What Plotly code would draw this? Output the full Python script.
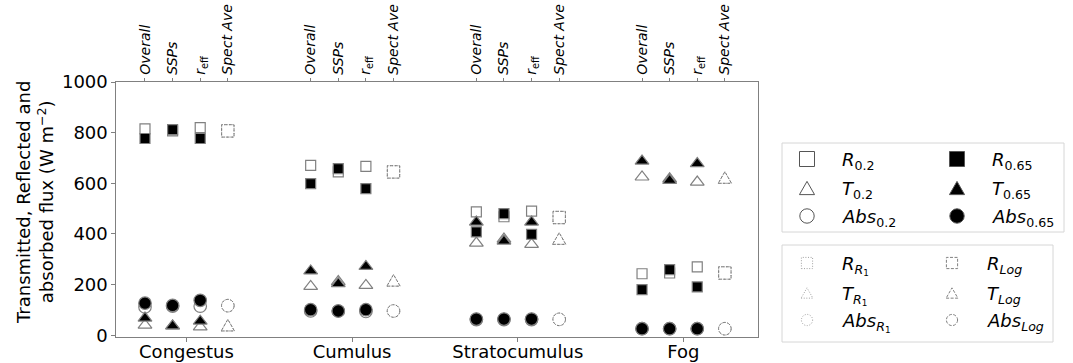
import plotly.graph_objects as go

# ---- data -------------------------------------------------------------
clouds = ["Congestus", "Cumulus", "Stratocumulus", "Fog"]
method_labels = ["<i>Overall</i>", "<i>SSPs</i>", "<i>r</i><sub>eff</sub>", "<i>Spect Ave</i>"]

# values per cloud type, ordered [Overall, SSPs, r_eff]  (W m-2)
R_02 = [[815, 807, 820], [671, 645, 667], [487, 468, 490], [243, 246, 270]]
R_065 = [[777, 812, 777], [599, 658, 579], [408, 480, 399], [180, 259, 191]]
T_02 = [[40, 37, 33], [193, 212, 197], [364, 380, 359], [625, 618, 605]]
T_065 = [[68, 37, 56], [254, 204, 272], [447, 372, 447], [688, 612, 678]]
Abs_02 = [[112, 115, 115], [96, 96, 94], [62, 62, 62], [26, 26, 26]]
Abs_065 = [[127, 118, 138], [101, 96, 101], [64, 64, 64], [26, 26, 26]]

# spectrally averaged values, one per cloud type
R_R1 = [807, 645, 465, 246]
T_R1 = [40, 217, 382, 623]
Abs_R1 = [117, 96, 63, 26]
R_Log = [807, 645, 465, 246]
T_Log = [40, 217, 382, 623]
Abs_Log = [117, 96, 63, 26]

# ---- layout constants -------------------------------------------------
GROUP_STEP = 6
N_METH = 3
SPECT_OFFSET = 3
L, R, T, B = 116, 315, 82, 26
W, H = 1073, 363
PW, PH = W - L - R, H - T - B
EDGE = "#808080"
FONT = "DejaVu Sans"


def pos(g, m):
    return GROUP_STEP * g + m


def to_paper(px, py):
    return (px - L) / PW, (H - B - py) / PH


fig = go.Figure()

# point markers: 0.2 series on the base axis, 0.65 series drawn above on the overlay axis
series = [
    (R_02, "square", "white", 10, "x"),
    (T_02, "triangle-up", "white", 12, "x"),
    (Abs_02, "circle", "white", 12.5, "x"),
    (R_065, "square", "black", 10, "x2"),
    (T_065, "triangle-up", "black", 12, "x2"),
    (Abs_065, "circle", "black", 12.5, "x2"),
]
for vals, sym, fill, size, xax in series:
    xs = [pos(g, m) for g in range(len(clouds)) for m in range(N_METH)]
    ys = [vals[g][m] for g in range(len(clouds)) for m in range(N_METH)]
    fig.add_trace(go.Scatter(
        x=xs, y=ys, mode="markers", xaxis=xax, yaxis="y",
        marker=dict(symbol=sym, size=size, color=fill,
                    line=dict(color=EDGE, width=1.2)),
        showlegend=False, hoverinfo="skip",
    ))


def marker_shape(kind, xref, yref, xa, ya, half, fill, color, dash, width=1.0):
    base = dict(xref=xref, yref=yref, xsizemode="pixel", ysizemode="pixel",
                xanchor=xa, yanchor=ya, fillcolor=fill,
                line=dict(color=color, width=width, dash=dash), layer="above")
    if kind == "square":
        return dict(type="rect", x0=-half, x1=half, y0=-half, y1=half, **base)
    if kind == "circle":
        return dict(type="circle", x0=-half, x1=half, y0=-half, y1=half, **base)
    hw = half * 1.05
    hh = half * 0.92
    path = f"M {-hw},{-hh} L {hw},{-hh} L 0,{hh} Z"
    return dict(type="path", path=path, **base)


DOT = "1px,1.6px"
DASH = "3px,1.5px"

# spectrally averaged points, dotted (R1) and dashed (Log) outlines
shapes = []
for vals, kind, dash, col in [
    (R_R1, "square", DOT, "#9a9a9a"), (T_R1, "triangle", DOT, "#9a9a9a"), (Abs_R1, "circle", DOT, "#9a9a9a"),
    (R_Log, "square", DASH, "#7a7a7a"), (T_Log, "triangle", DASH, "#7a7a7a"), (Abs_Log, "circle", DASH, "#7a7a7a"),
]:
    for g, v in enumerate(vals):
        half = 6.3 if kind != "square" else 6.2
        shapes.append(marker_shape(kind, "x", "y", pos(g, SPECT_OFFSET), v, half,
                                   "rgba(0,0,0,0)", col, dash))

# ---- legends ----------------------------------------------------------
annotations = []


def frame(x0, y0, x1, y1):
    a0 = to_paper(x0, y1)
    a1 = to_paper(x1, y0)
    shapes.append(dict(type="rect", xref="paper", yref="paper",
                       x0=a0[0], y0=a0[1], x1=a1[0], y1=a1[1],
                       line=dict(color="#d6d6d6", width=1), fillcolor="white",
                       layer="above"))


def label(px, py, text):
    xp, yp = to_paper(px, py)
    annotations.append(dict(x=xp, y=yp, xref="paper", yref="paper", text=text,
                            showarrow=False, xanchor="left", yanchor="middle",
                            font=dict(family=FONT, size=18, color="black")))


def legend_marker(px, py, kind, half, fill, color, dash, width=1.0):
    xp, yp = to_paper(px, py)
    shapes.append(marker_shape(kind, "paper", "paper", xp, yp, half, fill, color, dash, width))


frame(782, 143, 1064, 232)
rows1 = [
    (("square", "white", "<i>R</i><sub>0.2</sub>"), ("square", "black", "<i>R</i><sub>0.65</sub>")),
    (("triangle", "white", "<i>T</i><sub>0.2</sub>"), ("triangle", "black", "<i>T</i><sub>0.65</sub>")),
    (("circle", "white", "<i>Abs</i><sub>0.2</sub>"), ("circle", "black", "<i>Abs</i><sub>0.65</sub>")),
]
for ry, row in zip([159, 188, 216], rows1):
    for (kind, fill, txt), mx, tx in zip(row, [807, 957], [840, 990]):
        half = 7.5 if kind == "square" else 7.2
        legend_marker(mx, ry, kind, half, fill, "#555555", "solid", 1.0)
        label(tx, ry + 2, txt)

frame(782, 245, 1053, 342)
rows2 = [
    (("square", "<i>R</i><sub><i>R</i><sub>1</sub></sub>"), ("square", "<i>R</i><sub><i>Log</i></sub>")),
    (("triangle", "<i>T</i><sub><i>R</i><sub>1</sub></sub>"), ("triangle", "<i>T</i><sub><i>Log</i></sub>")),
    (("circle", "<i>Abs</i><sub><i>R</i><sub>1</sub></sub>"), ("circle", "<i>Abs</i><sub><i>Log</i></sub>")),
]
for ry, row in zip([263, 293, 320], rows2):
    for (kind, txt), mx, tx, dash, col in zip(row, [807, 952], [840, 985],
                                              [DOT, DASH], ["#a0a0a0", "#808080"]):
        legend_marker(mx, ry, kind, 5.6, "rgba(0,0,0,0)", col, dash, 1.0)
        label(tx, ry + 2, txt)

# y-axis title
tx, ty = to_paper(35, 203)
annotations.append(dict(
    x=tx, y=ty, xref="paper", yref="paper", textangle=-90, showarrow=False,
    xanchor="center", yanchor="middle", align="center",
    text="Transmitted, Reflected and<br>absorbed flux (W m<sup>\u22122</sup>)",
    font=dict(family=FONT, size=18, color="black"),
))

x_range = [-1.05, 22.2]
centers = [pos(g, 1.5) for g in range(len(clouds))]
top_vals = [pos(g, m) for g in range(len(clouds)) for m in range(4)]
top_text = method_labels * len(clouds)

fig.update_layout(
    width=W, height=H,
    margin=dict(l=L, r=R, t=T, b=B, pad=0, autoexpand=False),
    plot_bgcolor="white", paper_bgcolor="white",
    font=dict(family=FONT, size=18, color="black"),
    showlegend=False,
    xaxis=dict(range=x_range, tickmode="array", tickvals=centers, ticktext=clouds,
               ticks="outside", ticklen=3.5, tickwidth=1, tickcolor=EDGE,
               showline=True, linecolor=EDGE, linewidth=1.3, mirror=True,
               showgrid=False, zeroline=False, tickfont=dict(size=18),
               ticklabelstandoff=-5, automargin=False),
    xaxis2=dict(range=x_range, overlaying="x", side="top", anchor="y",
                tickmode="array", tickvals=top_vals, ticktext=top_text,
                tickangle=-90, ticks="outside", ticklen=3.5, tickwidth=1,
                tickcolor=EDGE, showline=False, showgrid=False, zeroline=False,
                tickfont=dict(size=14), automargin=False),
    yaxis=dict(range=[-6.7, 1000], tickmode="array",
               tickvals=[0, 200, 400, 600, 800, 1000],
               ticks="outside", ticklen=3.5, tickwidth=1, tickcolor=EDGE,
               showline=True, linecolor=EDGE, linewidth=1.3, mirror=True,
               showgrid=False, zeroline=False, tickfont=dict(size=18),
               automargin=False),
    shapes=shapes,
    annotations=annotations,
)

fig.write_html("out.html")
